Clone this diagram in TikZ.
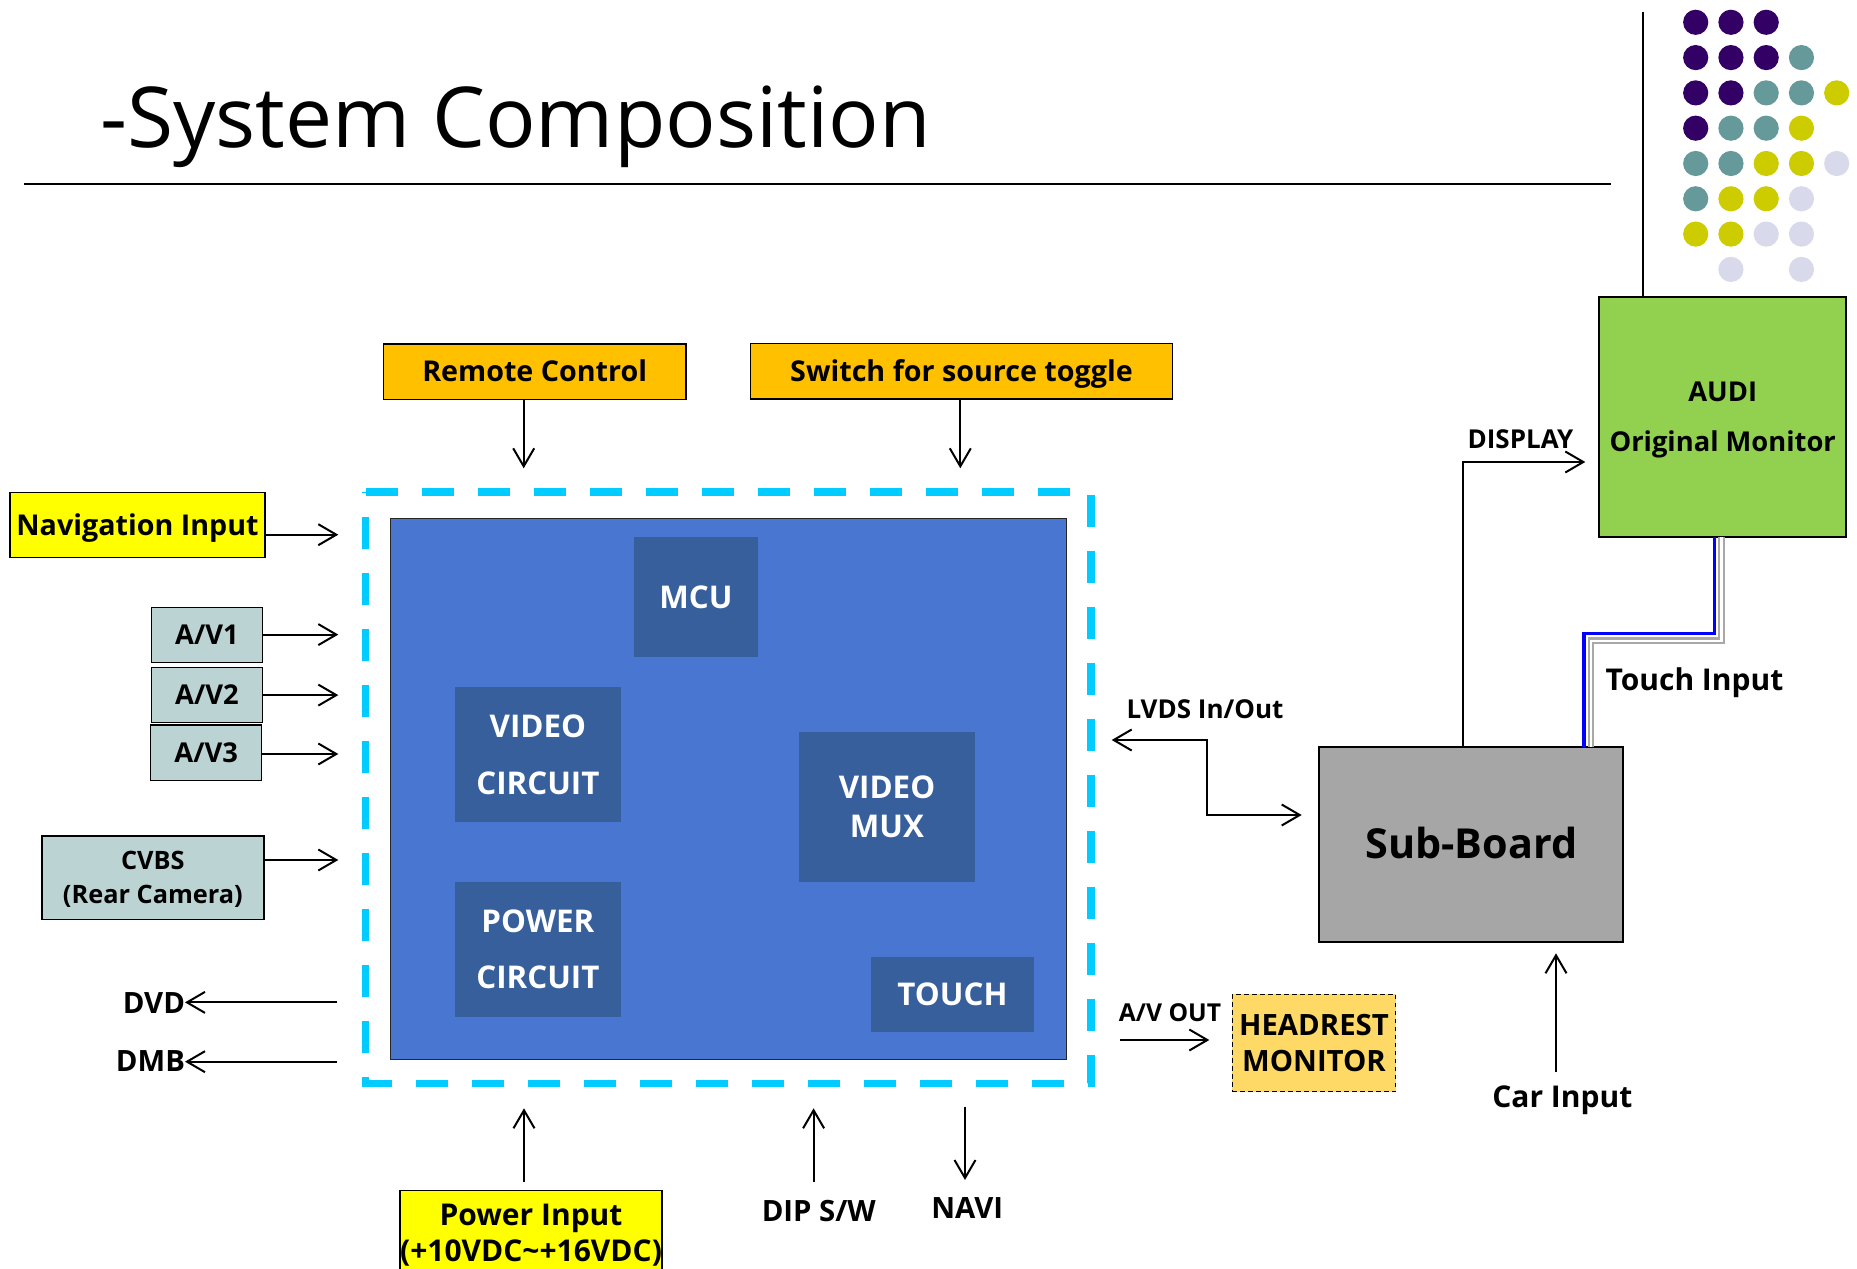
\documentclass[tikz,border=0pt]{standalone}
\usepackage{fontspec}
\setmainfont{Open Sans}
\usetikzlibrary{arrows.meta}
\definecolor{remoteC}{HTML}{FFC000}
\definecolor{navC}{HTML}{FFFF00}
\definecolor{avC}{HTML}{BCD3D3}
\definecolor{headC}{HTML}{FFD966}
\definecolor{subC}{HTML}{A6A6A6}
\definecolor{audiC}{HTML}{92D050}
\definecolor{dashC}{HTML}{00CCFF}
\definecolor{innerC}{HTML}{4876D0}
\definecolor{darkC}{HTML}{365F9B}
\definecolor{grayline}{HTML}{A8A8A8}
\definecolor{dotP}{HTML}{330066}
\definecolor{dotT}{HTML}{669999}
\definecolor{dotY}{HTML}{CCCC00}
\definecolor{dotL}{HTML}{D9D9EC}
\newcommand\myfs[2]{\fontsize{#1pt}{#2pt}\selectfont}
\begin{document}
\begin{tikzpicture}[x=0.75pt,y=-0.75pt,
  >={Straight Barb[length=13.5pt,width=15.75pt]},
  box/.style={draw=black, line width=1.1pt, inner sep=0pt, outer sep=0pt, align=center},
  inbox/.style={fill=darkC, inner sep=0pt, outer sep=0pt, text=white, align=center},
  capc/.style={text height=#1, text depth=0pt},
  lbl/.style={inner sep=0pt, outer sep=0pt},
  arr/.style={line width=1.5pt, ->},
  arrb/.style={line width=1.5pt, <->}]
\useasboundingbox (0,0) rectangle (1857,1269);

% title and rules
\node[lbl, anchor=base west, font=\myfs{63}{70}] (title) at (100,148) {-System Composition};
\coordinate (hl1) at (24,183.6);
\coordinate (hl2) at (1611,183.6);
\draw[line width=1.5pt] (hl1) -- (hl2);

% decorative dots
\foreach \i/\j/\c in {0/0/P,1/0/P,2/0/P,
  0/1/P,1/1/P,2/1/P,3/1/T,
  0/2/P,1/2/P,2/2/T,3/2/T,4/2/Y,
  0/3/P,1/3/T,2/3/T,3/3/Y,
  0/4/T,1/4/T,2/4/Y,3/4/Y,4/4/L,
  0/5/T,1/5/Y,2/5/Y,3/5/L,
  0/6/Y,1/6/Y,2/6/L,3/6/L,
  1/7/L,3/7/L}
  \fill[dot\c] ({1695.7+35.25*\i},{22.3+35.3*\j}) circle[radius=12.6];

% top inputs
\node[box, fill=remoteC, capc=15.35pt, minimum width=227pt, minimum height=41.5pt, font=\bfseries\myfs{21.5}{26}] (remote) at (534.7,371.7) {Remote Control};
\node[box, fill=remoteC, capc=15.35pt, minimum width=316.2pt, minimum height=41.8pt, font=\bfseries\myfs{21.5}{26}] (switch) at (961.5,371.2) {Switch for source toggle};

% dashed container
\coordinate (dA) at (365.7,492);
\coordinate (dB) at (1091,492);
\coordinate (dC) at (1091,1083.3);
\coordinate (dD) at (365.7,1083.3);
\draw[dashC, line width=5.6pt, dash pattern=on 24pt off 18pt] (dA) -- (dB) -- (dC) -- (dD) -- cycle;

% inner board
\node[draw=black!85, line width=1pt, fill=innerC, inner sep=0pt, minimum width=507pt, minimum height=405.5pt] (inner) at (728.7,789) {};
\node[inbox, capc=16.8pt, minimum width=92.8pt, minimum height=89.8pt, font=\bfseries\myfs{23.5}{28}] (mcu) at (695.9,596.9) {MCU};
\node[inbox, minimum width=124.3pt, minimum height=100.8pt, font=\bfseries\myfs{23.5}{42.5}] (vidc) at (537.9,754.5) {VIDEO\\CIRCUIT};
\node[inbox, minimum width=124.3pt, minimum height=101pt, font=\bfseries\myfs{23.5}{42.2}] (powc) at (537.9,949.4) {POWER\\CIRCUIT};
\node[inbox, minimum width=132pt, minimum height=112.3pt, font=\bfseries\myfs{23.5}{28.8}] (vmux) at (887,806.9) {VIDEO\\MUX};
\node[inbox, capc=16.8pt, minimum width=122.3pt, minimum height=56pt, font=\bfseries\myfs{23.5}{28}] (touch) at (952.5,994.4) {TOUCH};

% left inputs
\node[box, fill=navC, capc=15.35pt, minimum width=191.3pt, minimum height=48.8pt, font=\bfseries\myfs{21.5}{26}] (nav) at (137.5,525.2) {Navigation Input};
\node[box, fill=avC, capc=14.6pt, minimum width=83pt, minimum height=41.3pt, font=\bfseries\myfs{20.5}{25}] (av1) at (207,635) {A/V1};
\node[box, fill=avC, capc=14.6pt, minimum width=83pt, minimum height=41.1pt, font=\bfseries\myfs{20.5}{25}] (av2) at (207,694.9) {A/V2};
\node[box, fill=avC, capc=14.6pt, minimum width=83.3pt, minimum height=41.6pt, font=\bfseries\myfs{20.5}{25}] (av3) at (206.2,752.7) {A/V3};
\node[box, fill=avC, minimum width=166.7pt, minimum height=62.6pt, font=\bfseries\myfs{19}{25.3}] (cvbs) at (152.9,877.6) {CVBS\\\smash{(Rear Camera)}};
\node[lbl, anchor=base east, font=\bfseries\myfs{22}{26}] (dvd) at (185,1013) {DVD};
\node[lbl, anchor=base east, font=\bfseries\myfs{22}{26}] (dmb) at (185,1071) {DMB};

% bottom
\node[box, fill=navC, minimum width=195.5pt, minimum height=63.2pt, font=\bfseries\myfs{22.5}{26.8}] (power) at (531,1232.8) {Power Input\\\smash{(+10VDC\textasciitilde+16VDC)}};
\node[lbl, anchor=base, font=\bfseries\myfs{22}{26}] (dip) at (818.8,1221.7) {DIP S/W};
\node[lbl, anchor=base, font=\bfseries\myfs{22}{26}] (navi) at (967.2,1218.3) {NAVI};

% right side
\node[box, fill=headC, dash pattern=on 3.5pt off 2.5pt, minimum width=122.6pt, minimum height=73.1pt, font=\bfseries\myfs{22}{26.5}] (head) at (1314,1043) {HEADREST\\MONITOR};
\node[lbl, anchor=base, font=\bfseries\myfs{18.5}{22}] (avout) at (1170,1021.7) {A/V OUT};
\node[lbl, anchor=base, font=\bfseries\myfs{19.5}{23}] (lvds) at (1205,718.3) {LVDS In/Out};
\node[box, fill=subC, capc=22.1pt, line width=1.5pt, minimum width=228pt, minimum height=146.3pt, font=\bfseries\myfs{31}{36}] (sub) at (1471.3,844.2) {Sub-Board};
\node[box, fill=audiC, line width=1.5pt, minimum width=184.9pt, minimum height=180pt, font=\bfseries\myfs{20.5}{38}] (audi) at (1722.7,416.7) {AUDI\\\smash{Original Monitor}};
\node[lbl, anchor=base, font=\bfseries\myfs{19.5}{23}] (disp) at (1520.5,448.3) {DISPLAY};
\node[lbl, anchor=base west, font=\bfseries\myfs{22.5}{26}] (touchlbl) at (1605.5,690.7) {Touch Input};
\node[lbl, anchor=base, font=\bfseries\myfs{22.5}{26}] (car) at (1562.3,1107.3) {Car Input};

% vertical rule
\coordinate (vtop) at (1643,12);
\draw[line width=1.5pt] (vtop) -- (vtop |- audi.north);

% connectors
\coordinate (rmT) at (523.7,468.3);
\draw[arr] (remote.south -| rmT) -- (rmT);
\coordinate (swT) at (960.3,468.3);
\draw[arr] (switch.south -| swT) -- (swT);
\coordinate (navT) at (338.3,534.7);
\draw[arr] (nav.east |- navT) -- (navT);
\coordinate (av1T) at (338.3,634.6);
\draw[arr] (av1.east |- av1T) -- (av1T);
\coordinate (av2T) at (338.3,695.1);
\draw[arr] (av2.east |- av2T) -- (av2T);
\coordinate (av3T) at (338.3,754);
\draw[arr] (av3.east |- av3T) -- (av3T);
\coordinate (cvT) at (338.3,860);
\draw[arr] (cvbs.east |- cvT) -- (cvT);
\coordinate (dvdS) at (336.7,1002.4);
\draw[arr] (dvdS) -- (dvd.east |- dvdS);
\coordinate (dmbS) at (336.7,1061.7);
\draw[arr] (dmbS) -- (dmb.east |- dmbS);
\coordinate (pwT) at (524,1108.3);
\draw[arr, shorten <=6.75pt] (power.north -| pwT) -- (pwT);
\coordinate (dipA) at (813.6,1181.7);
\coordinate (dipT) at (813.6,1108.3);
\draw[arr] (dipA) -- (dipT);
\coordinate (naviA) at (965,1106.7);
\coordinate (naviT) at (965,1180);
\draw[arr] (naviA) -- (naviT);
\coordinate (lvL) at (1111.7,740);
\coordinate (lvR) at (1301.7,815);
\draw[arrb] (lvL) -- (1206.7,740) -- (1206.7,815) -- (lvR);
\coordinate (avoA) at (1120,1040);
\coordinate (avoT) at (1209.3,1040);
\draw[arr] (avoA) -- (avoT);
\coordinate (dispX) at (1462.7,462);
\coordinate (dispT) at (1585.3,462);
\draw[arr] (sub.north -| dispX) -- (dispX) -- (dispT);
\coordinate (carA) at (1556,1072.3);
\coordinate (carT) at (1556,953.3);
\draw[arr] (carA) -- (carT);
\coordinate (tb1) at (1584.2,633.3);
\coordinate (tb2) at (1714.6,633.3);
\draw[blue, line width=2.6pt] (sub.north -| tb1) -- (tb1) -- (tb2) -- (tb2 |- audi.south);
\coordinate (tg1) at (1591,640.8);
\coordinate (tg2) at (1721.6,640.8);
\draw[grayline, line width=1.6pt, double=white, double distance=1.9pt] (sub.north -| tg1) -- (tg1) -- (tg2) -- (tg2 |- audi.south);
\end{tikzpicture}
\end{document}
